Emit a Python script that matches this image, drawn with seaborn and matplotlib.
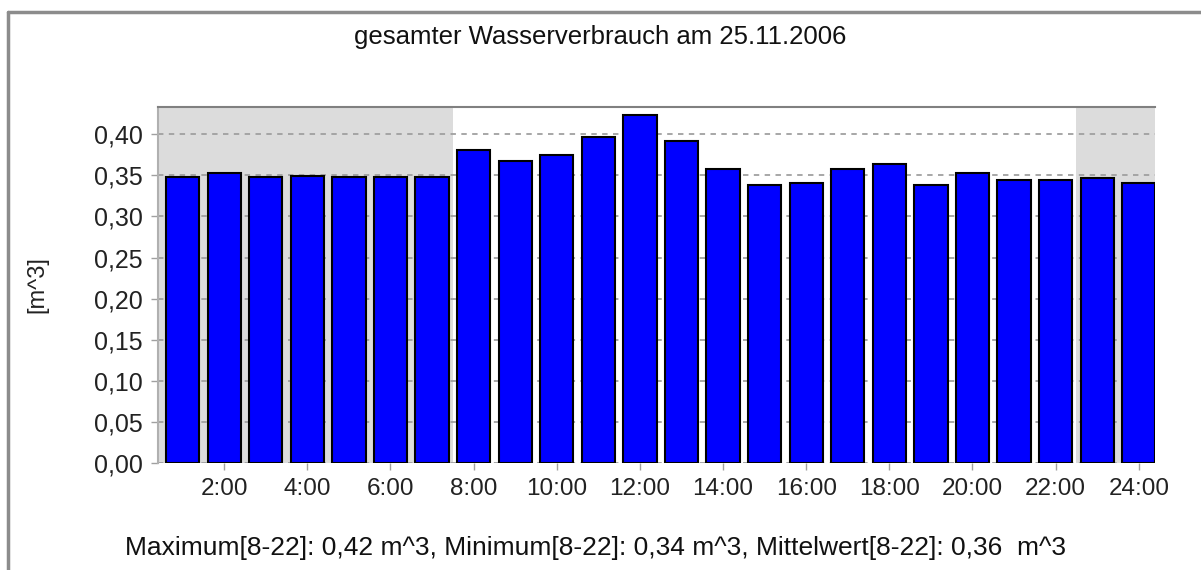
import matplotlib
matplotlib.use("Agg")
import matplotlib.pyplot as plt
import seaborn as sns
import pandas as pd
from matplotlib.lines import Line2D

hours = [f"{h}:00" for h in range(1, 25)]
verbrauch = [0.348, 0.353, 0.348, 0.349, 0.348, 0.348, 0.348, 0.381,
             0.367, 0.375, 0.397, 0.424, 0.392, 0.358, 0.338, 0.341,
             0.358, 0.364, 0.338, 0.353, 0.344, 0.344, 0.347, 0.341]
y_ticks = [0.00, 0.05, 0.10, 0.15, 0.20, 0.25, 0.30, 0.35, 0.40]
title = "gesamter Wasserverbrauch am 25.11.2006"
summary = "Maximum[8-22]: 0,42 m^3, Minimum[8-22]: 0,34 m^3, Mittelwert[8-22]: 0,36  m^3"

df = pd.DataFrame({"Stunde": hours, "Verbrauch": verbrauch})

sns.set_theme(style="white")
plt.rcParams["font.family"] = ["Liberation Sans", "DejaVu Sans"]

fig = plt.figure(figsize=(12.01, 5.70), dpi=100)
fig.patch.set_facecolor("white")
ax = fig.add_axes([0.1316, 0.1877, 0.9617 - 0.1316, 0.8128 - 0.1877])

x_lo, x_hi = -0.59, 23.39
ax.axvspan(x_lo, 6.5, color="#dcdcdc", zorder=0, lw=0)
ax.axvspan(21.5, x_hi, color="#dcdcdc", zorder=0, lw=0)

sns.barplot(data=df, x="Stunde", y="Verbrauch", color="#0000ff", saturation=1,
            edgecolor="black", linewidth=1.5, width=0.8, ax=ax, zorder=3)

ax.set_xlim(x_lo, x_hi)
ax.set_ylim(0, 0.4336)
ax.set_yticks(y_ticks)
ax.set_yticklabels([f"{v:.2f}".replace(".", ",") for v in y_ticks], fontsize=18, color="#222222")
xt = list(range(1, 24, 2))
ax.set_xticks(xt)
ax.set_xticklabels([hours[i] for i in xt], fontsize=17.5, color="#222222")
ax.set_xlabel("")
ax.set_ylabel("[m^3]", fontsize=17, color="#222222")
ax.yaxis.set_label_coords(-0.110, 0.5)

ax.yaxis.grid(True, color="#a0a0a0", linestyle=(0, (3, 3)), linewidth=1.3, zorder=1)
ax.xaxis.grid(False)
ax.set_axisbelow(True)

ax.tick_params(axis="both", which="both", length=5, width=1, color="#a0a0a0",
               left=True, bottom=True, pad=6)

for s in ["right", "bottom"]:
    ax.spines[s].set_visible(False)
ax.spines["top"].set_color("#808080")
ax.spines["top"].set_linewidth(1.5)
ax.spines["left"].set_color("#b0b0b0")
ax.spines["left"].set_linewidth(1.5)

fig.text(0.5, 1 - 37 / 570, title, ha="center", va="center", fontsize=18.5, color="#111111")
fig.text(0.4960, 1 - 548 / 570, summary, ha="center", va="center", fontsize=19, color="#111111")

# outer frame
fig.add_artist(Line2D([8 / 1201, 8 / 1201], [0, 1 - 12 / 570], transform=fig.transFigure,
                      color="#8c8c8c", lw=2.5))
fig.add_artist(Line2D([8 / 1201, 1.0], [1 - 12 / 570, 1 - 12 / 570], transform=fig.transFigure,
                      color="#8c8c8c", lw=2.5))

fig.savefig("out.png", dpi=100)
